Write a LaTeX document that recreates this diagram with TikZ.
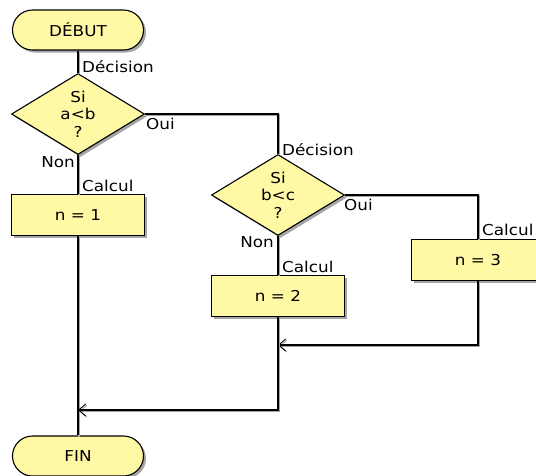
\documentclass[tikz,border=0pt]{standalone}
\usepackage{fontspec}
\setmainfont[FakeStretch=1.12]{DejaVu Sans}
\usetikzlibrary{shapes.geometric,shadows,arrows.meta}
\definecolor{fillY}{RGB}{255,249,165}
\definecolor{shadowG}{RGB}{165,165,165}
\tikzset{
  shapeshadow/.style={drop shadow={shadow xshift=2.5pt,shadow yshift=-2.5pt,fill=shadowG,opacity=1}},
  termbox/.style={draw, line width=1.1pt, fill=fillY, rounded corners=20pt, minimum width=131pt, minimum height=40pt, inner sep=0pt, shapeshadow},
  procbox/.style={draw, line width=1.1pt, fill=fillY, minimum width=133pt, minimum height=41pt, inner sep=0pt, shapeshadow},
  decbox/.style={draw, line width=1.1pt, fill=fillY, diamond, aspect=1.64, minimum width=133pt, minimum height=81pt, inner sep=0pt, align=center, font=\fontsize{15}{17.5}\selectfont, shapeshadow},
  conn/.style={line width=1.6pt, preaction={draw=shadowG, line width=1.6pt, transform canvas={shift={(1.2pt,-1.2pt)}}}},
  arr/.style={-{Straight Barb[length=7pt,width=12pt,line width=0.9pt]}},
  lbl/.style={inner sep=0pt, font=\fontsize{15}{17}\selectfont},
}
\begin{document}
\begin{tikzpicture}[x=1pt,y=-1pt, font=\fontsize{15}{15.5}\selectfont]
\useasboundingbox (0,0) rectangle (536,475);
\clip (0,0) rectangle (536,475);

\node[termbox] (debut) at (78,30) {DÉBUT};
\node[decbox] (d1) at (78,114) {Si\\a<b\\?};
\node[procbox] (b1) at (78,215) {n = 1};
\node[decbox] (d2) at (278,195) {Si\\b<c\\?};
\node[procbox] (b2) at (278,296) {n = 2};
\node[procbox] (b3) at (478,260) {n = 3};
\node[termbox] (fin) at (78,456) {FIN};

\coordinate (m1) at (78,410);
\coordinate (m2) at (278,345);

\draw[conn] (debut.south) -- (d1.north);
\draw[conn] (d1.south) -- (b1.north);
\draw[conn] (d1.east) -| (d2.north);
\draw[conn] (d2.south) -- (b2.north);
\draw[conn] (d2.east) -| (b3.north);
\draw[conn] (b1.south) -- (fin.north);
\draw[conn,arr] (b3.south) |- (m2);
\draw[conn,arr] (b2.south) |- (m1);

\node[lbl, anchor=west] (l1) at (82,67) {Décision};
\node[lbl, anchor=west] (l2) at (146,124) {Oui};
\node[lbl, anchor=east] (l3) at (75,162) {Non};
\node[lbl, anchor=west] (l4) at (82,186) {Calcul};
\node[lbl, anchor=west] (l5) at (282,150) {Décision};
\node[lbl, anchor=west] (l6) at (344,205) {Oui};
\node[lbl, anchor=east] (l7) at (274,242) {Non};
\node[lbl, anchor=west] (l8) at (282,267) {Calcul};
\node[lbl, anchor=west] (l9) at (482,230) {Calcul};
\end{tikzpicture}
\end{document}
